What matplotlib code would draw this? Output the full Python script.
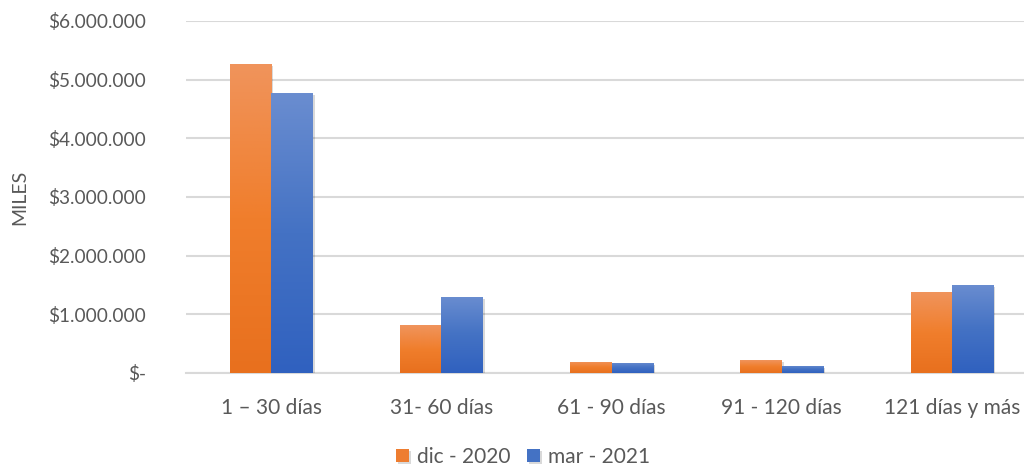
import matplotlib.pyplot as plt
import matplotlib.patheffects as pe
import numpy as np
from matplotlib.colors import LinearSegmentedColormap
from matplotlib.ticker import FuncFormatter

categories = ["1 – 30 días", "31- 60 días", "61 - 90 días", "91 - 120 días", "121 días y más"]
dic_2020 = [5270000, 810000, 190000, 220000, 1380000]
mar_2021 = [4770000, 1300000, 175000, 120000, 1500000]
series_names = ["dic - 2020", "mar - 2021"]

plt.rcParams["font.family"] = ["Lato", "DejaVu Sans"]
txt = "#595959"

fig = plt.figure(figsize=(10.24, 4.7), dpi=100)
ax = fig.add_axes([186 / 1024, 1 - 373 / 470, 851 / 1024, 352 / 470])

orange_cm = LinearSegmentedColormap.from_list("o", ["#E8701E", "#F07E2C", "#F0945C"])
blue_cm = LinearSegmentedColormap.from_list("b", ["#3061BF", "#4472C4", "#6A8DD0"])

x = np.arange(len(categories))
w = 0.243
grad = np.linspace(0, 1, 256).reshape(-1, 1)


def grad_bars(xs, vals, cmap, label, legend_color):
    bars = ax.bar(xs, vals, width=w, color=legend_color, label=label, zorder=3,
                  path_effects=[pe.SimplePatchShadow(offset=(1.5, -1.5), shadow_rgbFace="#000000", alpha=0.15),
                                pe.Normal()])
    for b in bars:
        x0, y0 = b.get_x(), b.get_y()
        h = b.get_height()
        im = ax.imshow(grad, cmap=cmap, origin="lower", aspect="auto",
                       extent=[x0, x0 + w, y0, y0 + h], zorder=4)
        im.set_clip_path(b)


grad_bars(x - w / 2, dic_2020, orange_cm, series_names[0], "#EE7D30")
grad_bars(x + w / 2, mar_2021, blue_cm, series_names[1], "#4472C4")

ax.set_xlim(-0.5, len(categories) - 0.5)
ax.set_ylim(0, 6000000)
ax.set_yticks(np.arange(0, 6000001, 1000000))


def fmt(v, pos):
    if v == 0:
        return "$-"
    return "$" + f"{int(v):,}".replace(",", ".")


ax.yaxis.set_major_formatter(FuncFormatter(fmt))
ax.set_xticks(x)
ax.set_xticklabels(categories)
ax.tick_params(axis="both", length=0, colors=txt)
ax.tick_params(axis="y", pad=29, labelsize=13.7)
ax.tick_params(axis="x", pad=18, labelsize=15)
ax.grid(axis="y", color="#D9D9D9", linewidth=1.5, zorder=0)
for s in ["top", "right", "left"]:
    ax.spines[s].set_visible(False)
ax.spines["bottom"].set_color("#D9D9D9")
ax.spines["bottom"].set_linewidth(1.5)

fig.text(20 / 1024, 1 - 197 / 470, "MILES", rotation=90, ha="center", va="center",
         fontsize=14, color=txt)

handles, labels = ax.get_legend_handles_labels()
leg = fig.legend(handles, labels, loc="center", bbox_to_anchor=(523 / 1024, 1 - 457 / 470), ncol=2,
                 frameon=False, fontsize=15, handlelength=0.6, handleheight=0.6,
                 columnspacing=0.8, handletextpad=0.4)
for t in leg.get_texts():
    t.set_color(txt)

fig.savefig("out.png", dpi=100)
